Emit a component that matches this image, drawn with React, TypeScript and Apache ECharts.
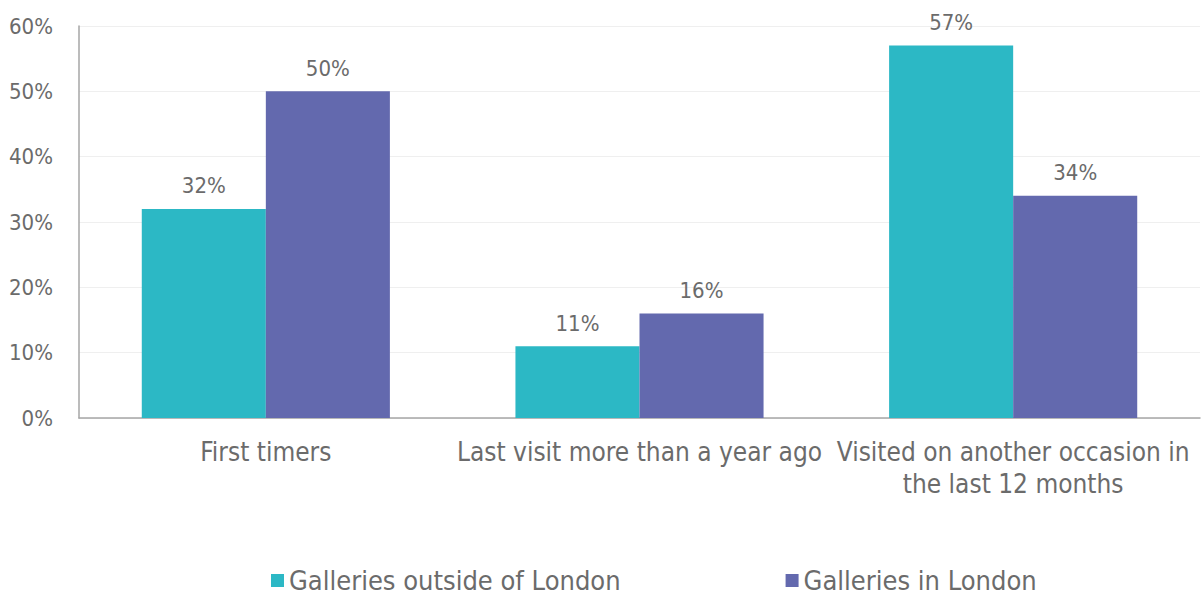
import React, { useEffect, useRef } from "react";
import * as echarts from "echarts";

const categories = [
  "First timers",
  "Last visit more than a year ago",
  "Visited on another occasion in\nthe last 12 months",
];
const seriesNames = ["Galleries outside of London", "Galleries in London"];
const outsideLondon = [32, 11, 57];
const inLondon = [50, 16, 34];
const colors = ["#2cb8c5", "#6369ae"];

const FONT = "DejaVu Sans Condensed";
const TXT = "#6b6b6b";

export default function App() {
  const ref = useRef<HTMLDivElement>(null);
  useEffect(() => {
    const chart = echarts.init(ref.current!, null, { renderer: "svg" });
    const label = {
      show: true,
      position: "top",
      distance: 12,
      color: TXT,
      fontFamily: FONT,
      fontSize: 22,
      formatter: (p: any) => p.value + "%",
    };
    chart.setOption({
      animation: false,
      textStyle: { fontFamily: FONT },
      grid: { left: 79, right: 2, top: 26, bottom: 183, containLabel: false },
      legend: {
        bottom: 2,
        left: 266,
        itemWidth: 13,
        itemHeight: 13,
        itemGap: 165,
        icon: "rect",
        textStyle: { color: TXT, fontFamily: FONT, fontSize: 27 },
        data: seriesNames,
      },
      xAxis: {
        type: "category",
        data: categories,
        axisLine: { lineStyle: { color: "#a6a6a6", width: 1.5 } },
        axisTick: { show: false },
        axisLabel: {
          color: TXT,
          fontFamily: FONT,
          fontSize: 26,
          margin: 18,
          lineHeight: 32,
          interval: 0,
        },
      },
      yAxis: {
        type: "value",
        min: 0,
        max: 60,
        interval: 10,
        axisLine: { show: true, lineStyle: { color: "#a6a6a6", width: 1.5 } },
        axisTick: { show: false },
        splitLine: { lineStyle: { color: "#efefef", width: 1 } },
        axisLabel: {
          color: TXT,
          fontFamily: FONT,
          fontSize: 22,
          margin: 26,
          formatter: "{value}%",
        },
      },
      series: [
        {
          name: seriesNames[0],
          type: "bar",
          data: outsideLondon,
          itemStyle: { color: colors[0] },
          barGap: "0%",
          barCategoryGap: "33.6%",
          label,
        },
        {
          name: seriesNames[1],
          type: "bar",
          data: inLondon,
          itemStyle: { color: colors[1] },
          barGap: "0%",
          barCategoryGap: "33.6%",
          label,
        },
      ],
    });
    return () => chart.dispose();
  }, []);
  return <div ref={ref} style={{ width: 1202, height: 601, position: "absolute", left: 0, top: 0 }} />;
}
